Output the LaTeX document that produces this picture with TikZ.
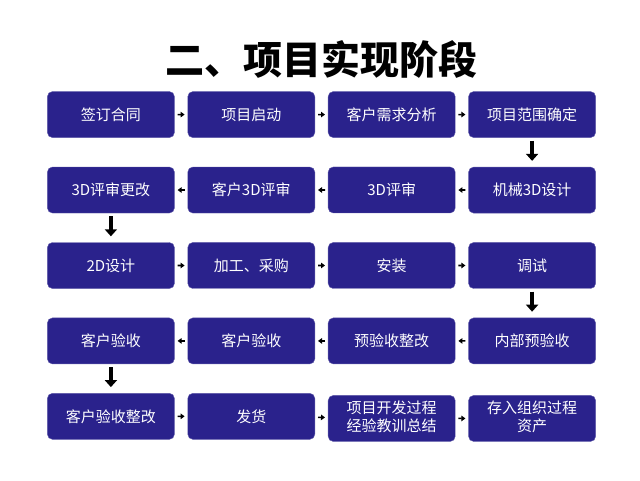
\documentclass[tikz,border=0pt]{standalone}
\usepackage{fontspec}
\setmainfont{Noto Sans CJK SC}
\usepackage{tikz}
\usetikzlibrary{matrix,arrows.meta}
\definecolor{stageblue}{RGB}{42,34,140}
\newcommand\twolines[2]{\begin{tabular}{@{}c@{}}#1\\#2\end{tabular}}

\begin{document}
\begin{tikzpicture}[x=1pt,y=1pt,
  stage/.style={fill=stageblue, draw=stageblue!75!white, rounded corners=5pt, text=white,
    minimum width=127pt, minimum height=46pt, inner sep=1pt,
    font=\fontsize{15}{18}\selectfont},
  hop/.style={-{Triangle[length=4pt,width=5.5pt]}, line width=1.6pt, shorten <=3pt, shorten >=3pt},
  drop/.style={-{Triangle[length=7pt,width=12pt]}, line width=4pt, shorten <=3pt, shorten >=6pt}]
 \useasboundingbox (0,0) rectangle (640,480);
 \node (title) at (321,421) {\fontsize{39}{44}\selectfont\bfseries 二、项目实现阶段};
 \matrix (m) at (321.5,213.5) [matrix of nodes, row sep=29pt, column sep=13pt, nodes={stage}]
  {
    签订合同 & 项目启动 & 客户需求分析 & 项目范围确定 \\
    3D评审更改 & 客户3D评审 & 3D评审 & 机械3D设计 \\
    2D设计 & 加工、采购 & 安装 & 调试 \\
    客户验收 & 客户验收 & 预验收整改 & 内部预验收 \\
    客户验收整改 & 发货 & \twolines{项目开发过程}{经验教训总结} & \twolines{存入组织过程}{资产} \\
  };
  \path[hop]
  (m-1-1) edge (m-1-2)
  (m-1-2) edge (m-1-3)
  (m-1-3) edge (m-1-4)
  (m-2-4) edge (m-2-3)
  (m-2-3) edge (m-2-2)
  (m-2-2) edge (m-2-1)
  (m-3-1) edge (m-3-2)
  (m-3-2) edge (m-3-3)
  (m-3-3) edge (m-3-4)
  (m-4-4) edge (m-4-3)
  (m-4-3) edge (m-4-2)
  (m-4-2) edge (m-4-1)
  (m-5-1) edge (m-5-2)
  (m-5-2) edge (m-5-3)
  (m-5-3) edge (m-5-4)
;
  \path[drop]
  (m-1-4) edge (m-2-4)
  (m-2-1) edge (m-3-1)
  (m-3-4) edge (m-4-4)
  (m-4-1) edge (m-5-1)
;
\end{tikzpicture}
\end{document}
